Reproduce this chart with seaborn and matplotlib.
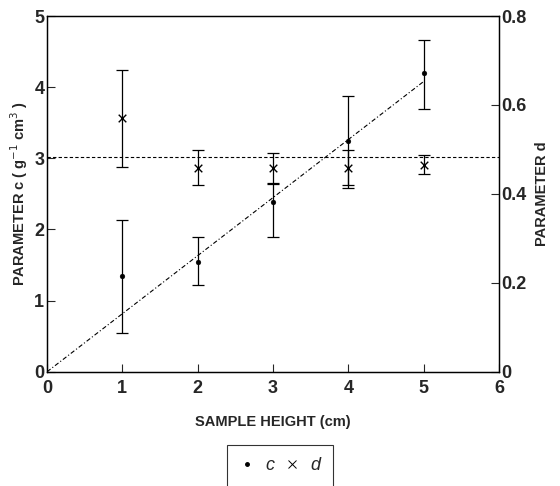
import numpy as np
import pandas as pd
import seaborn as sns
import matplotlib.pyplot as plt
from matplotlib.lines import Line2D

sns.set_style("ticks")
plt.rcParams["font.family"] = ["Liberation Sans", "DejaVu Sans"]

# parameter c (left axis)
heights = [1, 2, 3, 4, 5]
c_vals = [1.35, 1.54, 2.38, 3.24, 4.20]
c_low = [0.55, 1.22, 1.89, 2.62, 3.69]
c_high = [2.14, 1.89, 2.65, 3.87, 4.67]

# parameter d (right axis)
d_vals = [0.571, 0.459, 0.459, 0.458, 0.466]
d_low = [0.461, 0.419, 0.422, 0.413, 0.445]
d_high = [0.678, 0.498, 0.493, 0.499, 0.488]
d_mean = 0.483

# fitted line for c
fit_x = [0, 5]
fit_y = [0, 4.08]

df = pd.DataFrame({"h": heights, "c": c_vals, "d": d_vals})

fig = plt.figure(figsize=(5.6, 4.86), dpi=100)
ax = fig.add_axes([0.084, 0.235, 0.807, 0.732])
ax2 = ax.twinx()

# c: dots with error bars
c_err = [np.array(c_vals) - np.array(c_low), np.array(c_high) - np.array(c_vals)]
ax.errorbar(heights, c_vals, yerr=c_err, fmt="none", ecolor="black",
            elinewidth=0.9, capsize=4, capthick=0.9)
sns.scatterplot(data=df, x="h", y="c", ax=ax, color="black", s=12,
                marker="o", edgecolor="black", legend=False)
sns.lineplot(x=fit_x, y=fit_y, ax=ax, color="black", lw=0.8,
             linestyle=(0, (4, 2, 1, 2)))

# d: crosses with error bars
d_err = [np.array(d_vals) - np.array(d_low), np.array(d_high) - np.array(d_vals)]
ax2.errorbar(heights, d_vals, yerr=d_err, fmt="none", ecolor="black",
             elinewidth=0.9, capsize=4, capthick=0.9)
sns.scatterplot(data=df, x="h", y="d", ax=ax2, color="black", s=30,
                marker="x", linewidth=1.0, legend=False)
ax2.axhline(d_mean, color="black", lw=0.8, linestyle=(0, (3, 2)))

ax.set_xlim(0, 6)
ax.set_ylim(0, 5)
ax2.set_ylim(0, 0.8)
ax.set_xticks(range(0, 7))
ax.set_yticks(range(0, 6))
ax2.set_yticks([0, 0.2, 0.4, 0.6, 0.8])
ax2.set_yticklabels(["0", "0.2", "0.4", "0.6", "0.8"])

for a in (ax, ax2):
    a.tick_params(direction="in", length=6, width=0.8, labelsize=13)
    for lab in a.get_xticklabels() + a.get_yticklabels():
        lab.set_fontweight("bold")
    for s in a.spines.values():
        s.set_visible(True)
        s.set_linewidth(0.9)
        s.set_color("black")
ax.tick_params(axis="x", pad=6)
ax2.tick_params(axis="y", pad=2)
ax.tick_params(axis="y", pad=2)

ax.set_xlabel("SAMPLE HEIGHT (cm)", fontsize=10.5, fontweight="bold", labelpad=13)
ax.set_ylabel("PARAMETER c ( g$^{-1}$ cm$^{3}$ )", fontsize=10.5,
              fontweight="bold", labelpad=3)
ax2.set_ylabel("PARAMETER d", fontsize=10.5, fontweight="bold",
               rotation=90, labelpad=6)

handles = [
    Line2D([], [], marker=".", color="black", linestyle="none", markersize=5),
    Line2D([], [], marker="x", color="black", linestyle="none", markersize=6,
           markeredgewidth=0.7),
]
leg = fig.legend(handles, ["c", "d"], loc="upper center",
                 bbox_to_anchor=(0.5, 0.085), ncol=2, frameon=True,
                 fancybox=False, edgecolor="black", handlelength=0.8,
                 handletextpad=0.6, columnspacing=0.6, borderpad=0.7,
                 borderaxespad=0, prop={"size": 13, "style": "italic"})
leg.get_frame().set_linewidth(0.8)

fig.savefig("out.png", dpi=100)
